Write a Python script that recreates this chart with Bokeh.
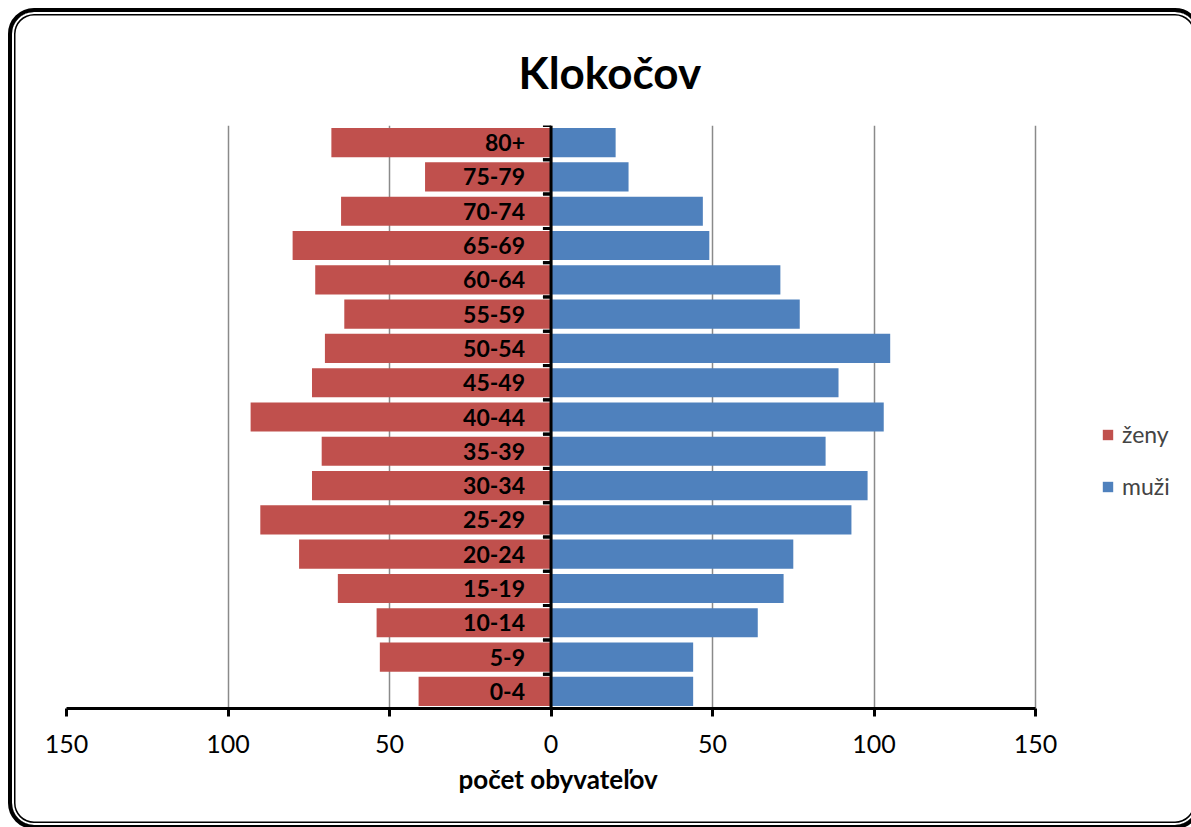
from bokeh.plotting import figure
from bokeh.models import (ColumnDataSource, FactorRange, FixedTicker, Span, Legend,
                          LegendItem, InlineStyleSheet, Title)
from bokeh.transform import dodge
from bokeh.core.properties import value
from bokeh.embed import file_html
from bokeh.resources import INLINE

ages = ["0-4", "5-9", "10-14", "15-19", "20-24", "25-29", "30-34", "35-39", "40-44",
        "45-49", "50-54", "55-59", "60-64", "65-69", "70-74", "75-79", "80+"]
zeny = [41, 53, 54, 66, 78, 90, 74, 71, 93, 74, 70, 64, 73, 80, 65, 39, 68]
muzi = [44, 44, 64, 72, 75, 93, 98, 85, 103, 89, 105, 77, 71, 49, 47, 24, 20]
x_ticks = [-150, -100, -50, 0, 50, 100, 150]
x_tick_labels = ["150", "100", "50", "0", "50", "100", "150"]
title_text = "Klokočov"
x_title = "počet obyvateľov"
series_names = ["ženy", "muži"]

FONT = "Lato"
RED = "#C0504D"
BLUE = "#4F81BD"

src = ColumnDataSource(dict(ages=ages, zeny=zeny, muzi=muzi,
                            zeny_neg=[-v for v in zeny]))

frame_css = InlineStyleSheet(css="""
:host { position: relative; overflow: hidden; }
:host::after {
  content: "";
  position: absolute;
  left: 8px; top: 8px;
  width: 1193px; height: 821px;
  box-sizing: border-box;
  border: 4px solid black;
  border-radius: 26px;
  box-shadow: inset 0 0 0 2px white, inset 0 0 0 3.5px black;
  pointer-events: none;
}
""")

# plot frame spans 66..1183 px; the value axis (-150..150) occupies 66..1035 px,
# the remaining right part of the frame holds the legend
p = figure(width=1191, height=827, x_range=(-150, 195.8),
           y_range=FactorRange(factors=ages),
           output_backend="svg", toolbar_location=None, y_axis_location=None,
           min_border_left=66, min_border_right=8, min_border_top=125,
           min_border_bottom=119, stylesheets=[frame_css])
p.outline_line_color = None
p.background_fill_color = "white"
p.border_fill_color = "white"

# title
p.title.text = title_text
p.title.text_font = FONT
p.title.text_font_size = "44px"
p.title.text_font_style = "bold"
p.title.text_color = "black"
p.title.align = "left"
p.title.offset = 452
p.title.standoff = 55

# grid
p.ygrid.visible = False
p.xgrid.ticker = FixedTicker(ticks=x_ticks)
p.xgrid.grid_line_color = "#8A8A8A"
p.xgrid.grid_line_width = 1.5

# bars
rz = p.hbar(y="ages", left="zeny_neg", right=0, height=0.85, source=src,
            fill_color=RED, line_color=None)
rm = p.hbar(y="ages", left=0, right="muzi", height=0.85, source=src,
            fill_color=BLUE, line_color=None)

# central vertical axis
p.add_layout(Span(location=0, dimension="height", line_color="black", line_width=3))
p.segment(x0=-2.5, x1=0, y0=dodge("ages", -0.5, range=p.y_range),
          y1=dodge("ages", -0.5, range=p.y_range), source=src,
          line_color="black", line_width=3)
p.segment(x0=-2.5, x1=0, y0=dodge("ages", 0.5, range=p.y_range),
          y1=dodge("ages", 0.5, range=p.y_range), source=src,
          line_color="black", line_width=3)

# category labels
p.text(x=0, y="ages", text="ages", source=src, x_offset=-26,
       text_align="right", text_baseline="middle", text_font=value(FONT),
       text_font_size="23px", text_font_style="bold", text_color="black")

# x axis
ax = p.xaxis[0]
ax.ticker = FixedTicker(ticks=x_ticks)
ax.bounds = (x_ticks[0], x_ticks[-1])
ax.major_label_overrides = {t: l for t, l in zip(x_ticks, x_tick_labels)}
ax.axis_line_color = "black"
ax.axis_line_width = 3
ax.major_tick_line_color = "black"
ax.major_tick_line_width = 3
ax.major_tick_out = 8
ax.major_tick_in = 0
ax.minor_tick_out = 0
ax.minor_tick_in = 0
ax.major_label_text_font = FONT
ax.major_label_text_font_size = "25px"
ax.major_label_text_color = "black"
ax.major_label_standoff = 18

# x axis title, centred under the value axis
p.add_layout(Title(text=x_title, align="left", offset=392, standoff=10,
                   text_font=FONT, text_font_size="26px", text_font_style="bold",
                   text_color="black"), "below")

# legend
legend = Legend(items=[LegendItem(label=series_names[0], renderers=[rz]),
                       LegendItem(label=series_names[1], renderers=[rm])],
                location=(1035, 208), orientation="vertical",
                border_line_color=None, background_fill_alpha=0,
                padding=0, margin=0, spacing=24, glyph_width=13, glyph_height=13,
                label_height=20, label_standoff=8, label_text_font=FONT,
                label_text_font_size="23px", label_text_baseline="middle")
p.add_layout(legend)

open("out.html", "w").write(file_html(p, INLINE))
